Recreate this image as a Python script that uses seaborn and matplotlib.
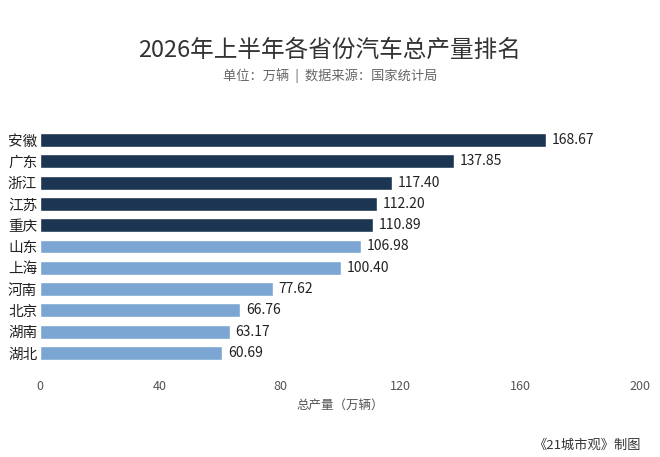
import matplotlib
matplotlib.use("Agg")
import matplotlib.pyplot as plt
import seaborn as sns
import pandas as pd

provinces = ["安徽", "广东", "浙江", "江苏", "重庆", "山东", "上海", "河南", "北京", "湖南", "湖北"]
output = [168.67, 137.85, 117.40, 112.20, 110.89, 106.98, 100.40, 77.62, 66.76, 63.17, 60.69]
xticks = [0, 40, 80, 120, 160, 200]

DARK = "#1c3553"
LIGHT = "#7ba6d4"

sns.set_theme(style="white")
plt.rcParams["font.family"] = ["Noto Sans CJK SC", "DejaVu Sans"]

df = pd.DataFrame({"province": provinces, "output": output})
palette = [DARK] * 5 + [LIGHT] * 6

fig = plt.figure(figsize=(6.6, 4.57), dpi=100)
ax = fig.add_axes([0.0606, 0.2043, 0.9091, 0.5127])
sns.barplot(data=df, x="output", y="province", hue="province", palette=palette,
            legend=False, width=0.65, ax=ax, saturation=1)

for i, v in enumerate(output):
    ax.text(v + 2, i, f"{v:.2f}", va="center", ha="left", fontsize=10, color="#222222")

ax.set_xlim(0, 200)
ax.set_xticks(xticks)
ax.tick_params(axis="x", labelsize=9, colors="#555555", length=0, pad=12)
ax.tick_params(axis="y", labelsize=10.5, colors="#222222", length=0, pad=2)
ax.set_ylabel("")
ax.set_xlabel("总产量（万辆）", fontsize=9, color="#555555", labelpad=4)
sns.despine(ax=ax, left=True, bottom=True)

fig.text(0.5, 0.89, "2026年上半年各省份汽车总产量排名", ha="center", va="center",
         fontsize=17, color="#333333")
fig.text(0.5, 0.835, "单位：万辆  |  数据来源：国家统计局", ha="center", va="center",
         fontsize=9.5, color="#666666")
fig.text(0.97, 0.025, "《21城市观》制图", ha="right", va="center", fontsize=9.5, color="#333333")

fig.savefig("out.png", dpi=100)
